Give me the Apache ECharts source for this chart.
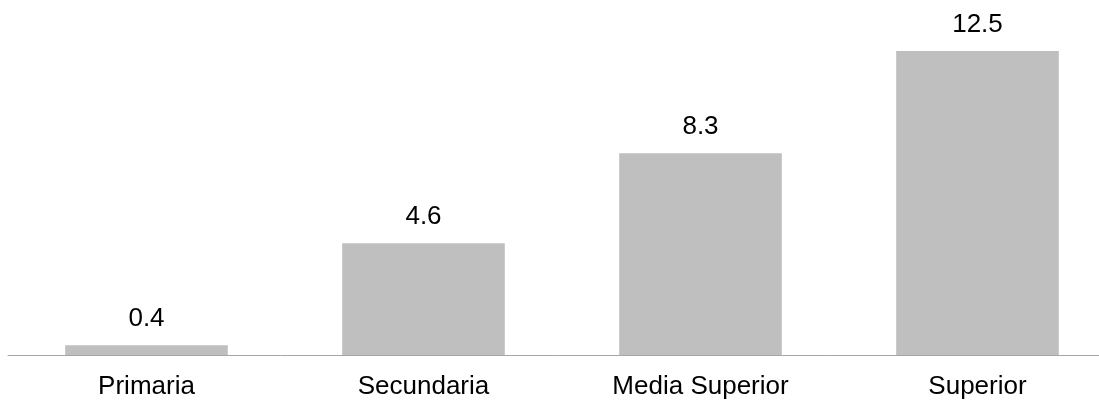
<!DOCTYPE html>
<html><head><meta charset="utf-8">
<script src="https://cdn.jsdelivr.net/npm/echarts@6/dist/echarts.min.js"></script>
<style>html,body{margin:0;padding:0;background:#fff}#c{width:1099px;height:400px}</style>
</head><body><div id="c"></div>
<script>
const categories = ['Primaria', 'Secundaria', 'Media Superior', 'Superior'];
const values = [0.4, 4.6, 8.3, 12.5];

const chart = echarts.init(document.getElementById('c'));
chart.setOption({
  animation: false,
  grid: { left: 8, width: 1108, top: 51, height: 304, outerBoundsMode: 'none', containLabel: false },
  xAxis: {
    type: 'category', data: categories,
    axisLine: { lineStyle: { color: '#A6A6A6', width: 1 } },
    axisTick: { show: false },
    axisLabel: { color: '#000', fontSize: 26, fontFamily: 'Liberation Sans, Arial', margin: 19 }
  },
  yAxis: { type: 'value', min: 0, max: 12.5, show: false, splitLine: { show: false } },
  series: [{
    type: 'bar', data: values, barWidth: '58.7%',
    itemStyle: { color: '#BFBFBF' },
    label: { show: true, position: 'top', distance: 13, color: '#000', fontSize: 26, fontFamily: 'Liberation Sans, Arial',
      formatter: p => p.value.toFixed(1) }
  }]
});
</script></body></html>
